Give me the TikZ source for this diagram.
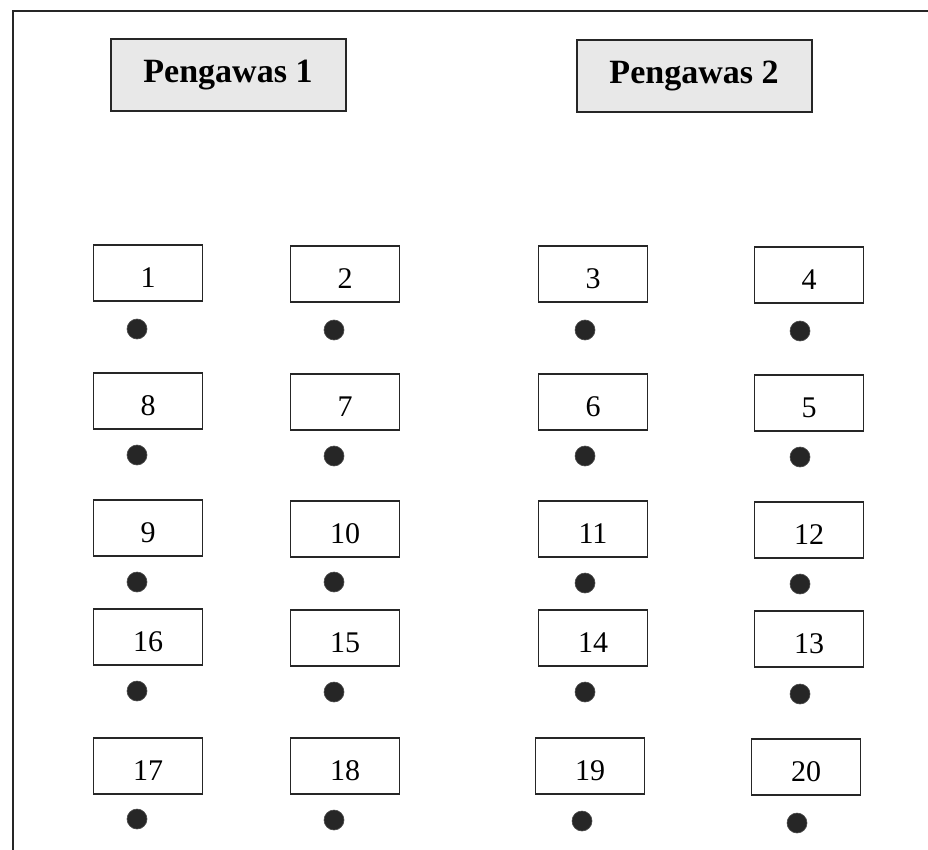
\documentclass[tikz,border=0pt]{standalone}
\usepackage{fontspec}
\setmainfont{Liberation Serif}
\begin{document}
\begin{tikzpicture}[x=1pt,y=-1pt,
  frame/.style={draw=black!85,line width=2.2pt},
  head/.style={draw=black!85,line width=2pt,fill=black!9,minimum width=235pt,minimum height=72pt,inner sep=0pt,font=\fontsize{34}{36}\selectfont\bfseries},
  seat/.style={draw=black!85,line width=1.7pt,fill=white,minimum width=109pt,minimum height=56pt,inner sep=0pt,text height=28pt,text depth=0pt,font=\fontsize{30}{32}\selectfont},
  dot/.style={circle,fill=black!85,draw=black!70,line width=0.6pt,minimum size=20pt,inner sep=0pt}]
\clip (0,0) rectangle (928,850);
\fill[white] (0,0) rectangle (928,850);
\draw[frame] (13,11) rectangle (945,870);
\node[head] (p1) at (228,75) {Pengawas 1};
\node[head] (p2) at (694,76) {Pengawas 2};
\foreach \n/\x/\y in {
  1/148/273, 2/345/274, 3/593/274, 4/809/275,
  8/148/401, 7/345/402, 6/593/402, 5/809/403,
  9/148/528, 10/345/529, 11/593/529, 12/809/530,
  16/148/637, 15/345/638, 14/593/638, 13/809/639,
  17/148/766, 18/345/766, 19/590/766, 20/806/767}{
  \node[seat] (s\n) at (\x,\y) {\n};
}
\foreach \n/\x/\y in {
  1/137/329, 2/334/330, 3/585/330, 4/800/331,
  8/137/455, 7/334/456, 6/585/456, 5/800/457,
  9/137/582, 10/334/582, 11/585/583, 12/800/584,
  16/137/691, 15/334/692, 14/585/692, 13/800/694,
  17/137/819, 18/334/820, 19/582/821, 20/797/823}{
  \node[dot] (d\n) at (\x,\y) {};
}
\end{tikzpicture}
\end{document}
